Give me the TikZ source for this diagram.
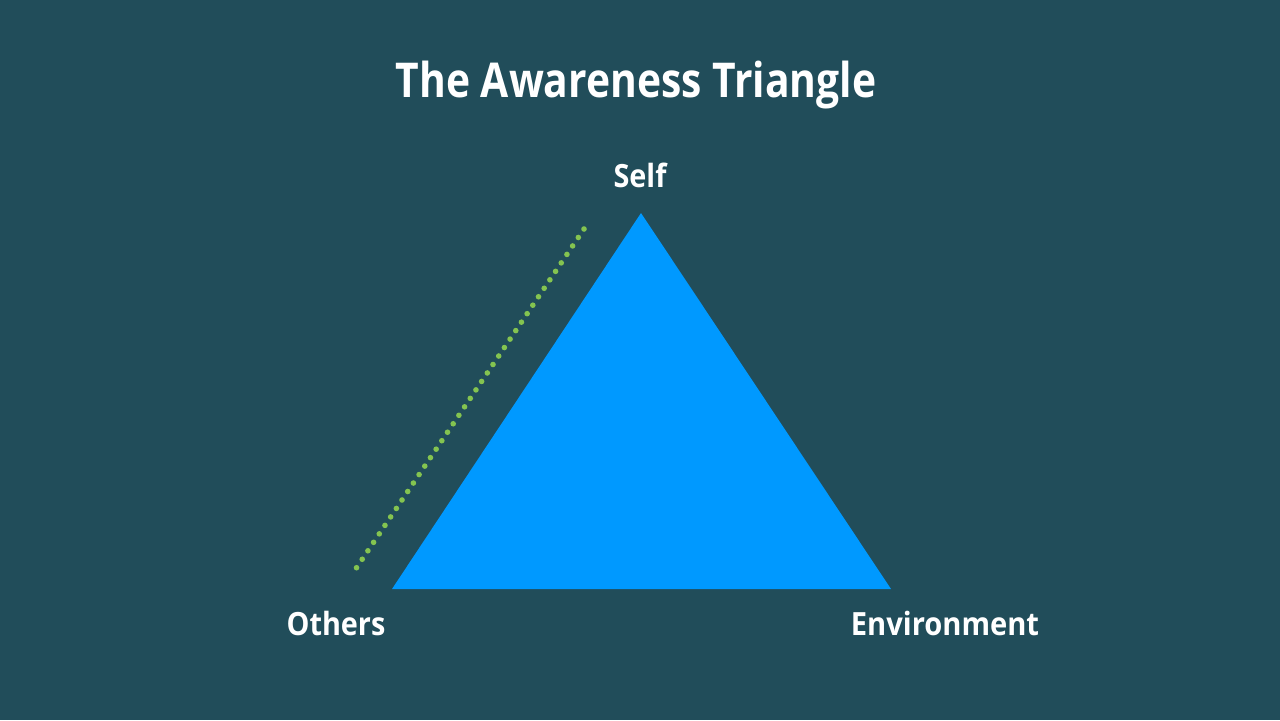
\documentclass[tikz,border=0pt]{standalone}
\usepackage{fontspec}
\setmainfont{Open Sans}
\definecolor{bg}{HTML}{214D5A}
\definecolor{tri}{HTML}{0099FF}
\definecolor{dotg}{HTML}{84C450}
\begin{document}
\begin{tikzpicture}[x=0.5pt,y=-0.5pt,
  lbl/.style={text=white,font=\bfseries\fontsize{16}{19}\selectfont,inner sep=0pt},
  ttl/.style={text=white,font=\bfseries\fontsize{24}{29}\selectfont,inner sep=0pt}]
\fill[bg] (0,0) rectangle (1280,720);
\useasboundingbox (0,0) rectangle (1280,720);
\coordinate (A) at (641,213);
\coordinate (B) at (392,589);
\coordinate (C) at (891,589);
\fill[tri] (A) -- (B) -- (C) -- cycle;
\coordinate (d1) at (584,229);
\coordinate (d2) at (355,570);
\draw[dotg,line width=2.8pt,line cap=round,dash pattern=on 0pt off 5.1pt] (d1) -- (d2);
\node[ttl] (title) at (636,85) {\scalebox{0.85}[1]{The Awareness Triangle}};
\node[lbl] (self) at (640,175) {\scalebox{0.9}[1]{Self}};
\node[lbl] (others) at (336,623) {\scalebox{0.9}[1]{Others}};
\node[lbl] (env) at (945,623) {\scalebox{0.91}[1]{Environment}};
\end{tikzpicture}
\end{document}
